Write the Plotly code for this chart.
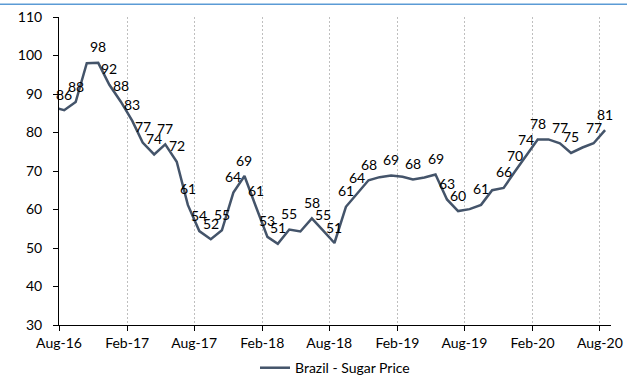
import plotly.graph_objects as go

months = ["2016-07-15", "2016-08-15", "2016-09-15", "2016-10-15", "2016-11-15", "2016-12-15",
          "2017-01-15", "2017-02-15", "2017-03-15", "2017-04-15", "2017-05-15", "2017-06-15",
          "2017-07-15", "2017-08-15", "2017-09-15", "2017-10-15", "2017-11-15", "2017-12-15",
          "2018-01-15", "2018-02-15", "2018-03-15", "2018-04-15", "2018-05-15", "2018-06-15",
          "2018-07-15", "2018-08-15", "2018-09-15", "2018-10-15", "2018-11-15", "2018-12-15",
          "2019-01-15", "2019-02-15", "2019-03-15", "2019-04-15", "2019-05-15", "2019-06-15",
          "2019-07-15", "2019-08-15", "2019-09-15", "2019-10-15", "2019-11-15", "2019-12-15",
          "2020-01-15", "2020-02-15", "2020-03-15", "2020-04-15", "2020-05-15", "2020-06-15",
          "2020-07-15", "2020-08-15"]

sugar_price = [86.6, 85.8, 87.9, 98.0, 98.1, 92.4,
               88.0, 83.0, 77.4, 74.3, 76.9, 72.4,
               61.2, 54.4, 52.3, 54.6, 64.4, 68.7,
               60.7, 52.9, 51.1, 54.8, 54.3, 57.7,
               54.6, 51.3, 60.7, 64.2, 67.6, 68.4,
               68.8, 68.5, 67.8, 68.3, 69.1, 62.6,
               59.6, 60.1, 61.2, 65.0, 65.6, 69.8,
               74.0, 78.2, 78.2, 77.2, 74.7, 76.1,
               77.2, 80.6]

show_label = [0, 1, 1, 0, 1, 1,
              1, 1, 1, 1, 1, 1,
              1, 1, 1, 1, 1, 1,
              1, 1, 1, 1, 0, 1,
              1, 1, 1, 1, 1, 0,
              1, 0, 1, 0, 1, 1,
              1, 0, 1, 0, 1, 1,
              1, 1, 0, 1, 1, 0,
              1, 1]

series_name = "Brazil - Sugar Price"
y_ticks = [30, 40, 50, 60, 70, 80, 90, 100, 110]

FONT = "Lato"
LINE_COLOR = "#44546A"

fig = go.Figure()
fig.add_trace(go.Scatter(
    x=months, y=sugar_price, mode="lines", name=series_name,
    line=dict(color=LINE_COLOR, width=2.5),
))

for d, v, s in zip(months, sugar_price, show_label):
    if s:
        fig.add_annotation(x=d, y=v, text=f"{v:.0f}", showarrow=False,
                           yshift=16, font=dict(family=FONT, size=14, color="#000000"))

fig.update_layout(
    width=627, height=376,
    margin=dict(l=59, r=16, t=17, b=51, autoexpand=False),
    paper_bgcolor="white", plot_bgcolor="white",
    font=dict(family=FONT, size=14, color="#000000"),
    showlegend=True,
    legend=dict(orientation="h", x=0.5, xanchor="center", y=-0.14, yanchor="middle",
                font=dict(family=FONT, size=14, color="#000000")),
    xaxis=dict(
        type="date", range=["2016-08-01", "2020-08-31"],
        tick0="2016-08-01", dtick="M6", tickformat="%b-%y",
        showgrid=True, gridcolor="#BFBFBF", griddash="2px,2px", gridwidth=1,
        showline=True, linecolor="#000000", linewidth=1,
        ticks="outside", ticklen=5, tickcolor="#000000",
        tickfont=dict(family=FONT, size=14, color="#000000"),
        ticklabelstandoff=0,
        zeroline=False,
    ),
    yaxis=dict(
        range=[30, 110], tickvals=y_ticks,
        showgrid=False, zeroline=False,
        showline=True, linecolor="#000000", linewidth=1,
        ticks="outside", ticklen=5, tickcolor="#000000",
        tickfont=dict(family=FONT, size=14, color="#000000"),
        ticklabelstandoff=8,
    ),
)

fig.add_shape(type="line", xref="paper", yref="paper",
              x0=-0.2, x1=1.2, y0=1.041, y1=1.041,
              line=dict(color="#5B9BD5", width=1.5))

fig.write_html("out.html")
